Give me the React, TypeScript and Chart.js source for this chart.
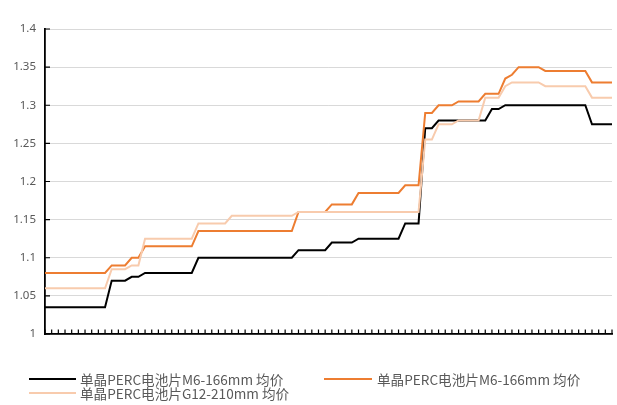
import React, { useEffect, useRef } from "react";
import { Chart, registerables } from "chart.js";

Chart.register(...registerables);

const categories: string[] = Array.from({ length: 86 }, (_, i) => String(i + 1));

const seriesM6Black: number[] = [
  1.035, 1.035, 1.035, 1.035, 1.035, 1.035, 1.035, 1.035, 1.035, 1.035,
  1.07, 1.07, 1.07,
  1.075, 1.075,
  1.08, 1.08, 1.08, 1.08, 1.08, 1.08, 1.08, 1.08,
  1.1, 1.1, 1.1, 1.1, 1.1, 1.1, 1.1, 1.1, 1.1, 1.1, 1.1, 1.1, 1.1, 1.1, 1.1,
  1.11, 1.11, 1.11, 1.11, 1.11,
  1.12, 1.12, 1.12, 1.12,
  1.125, 1.125, 1.125, 1.125, 1.125, 1.125, 1.125,
  1.145, 1.145, 1.145,
  1.27, 1.27,
  1.28, 1.28, 1.28, 1.28, 1.28, 1.28, 1.28, 1.28,
  1.295, 1.295,
  1.3, 1.3, 1.3, 1.3, 1.3, 1.3, 1.3, 1.3, 1.3, 1.3, 1.3, 1.3, 1.3,
  1.275, 1.275, 1.275, 1.275,
];

const seriesM6Orange: number[] = [
  1.08, 1.08, 1.08, 1.08, 1.08, 1.08, 1.08, 1.08, 1.08, 1.08,
  1.09, 1.09, 1.09,
  1.1, 1.1,
  1.115, 1.115, 1.115, 1.115, 1.115, 1.115, 1.115, 1.115,
  1.135, 1.135, 1.135, 1.135, 1.135, 1.135, 1.135, 1.135, 1.135, 1.135, 1.135, 1.135, 1.135, 1.135, 1.135,
  1.16, 1.16, 1.16, 1.16, 1.16,
  1.17, 1.17, 1.17, 1.17,
  1.185, 1.185, 1.185, 1.185, 1.185, 1.185, 1.185,
  1.195, 1.195, 1.195,
  1.29, 1.29,
  1.3, 1.3, 1.3,
  1.305, 1.305, 1.305, 1.305,
  1.315, 1.315, 1.315,
  1.335,
  1.34,
  1.35, 1.35, 1.35, 1.35,
  1.345, 1.345, 1.345, 1.345, 1.345, 1.345, 1.345,
  1.33, 1.33, 1.33, 1.33,
];

const seriesG12: number[] = [
  1.06, 1.06, 1.06, 1.06, 1.06, 1.06, 1.06, 1.06, 1.06, 1.06,
  1.085, 1.085, 1.085,
  1.09, 1.09,
  1.125, 1.125, 1.125, 1.125, 1.125, 1.125, 1.125, 1.125,
  1.145, 1.145, 1.145, 1.145, 1.145,
  1.155, 1.155, 1.155, 1.155, 1.155, 1.155, 1.155, 1.155, 1.155, 1.155,
  1.16, 1.16, 1.16, 1.16, 1.16, 1.16, 1.16, 1.16, 1.16, 1.16, 1.16, 1.16, 1.16, 1.16, 1.16, 1.16, 1.16, 1.16, 1.16,
  1.255, 1.255,
  1.275, 1.275, 1.275,
  1.28, 1.28, 1.28, 1.28,
  1.31, 1.31, 1.31,
  1.325,
  1.33, 1.33, 1.33, 1.33, 1.33,
  1.325, 1.325, 1.325, 1.325, 1.325, 1.325, 1.325,
  1.31, 1.31, 1.31, 1.31,
];

const seriesNames: string[] = [
  "单晶PERC电池片M6-166mm 均价",
  "单晶PERC电池片M6-166mm 均价",
  "单晶PERC电池片G12-210mm 均价",
];
const seriesColors: string[] = ["#000000", "#ED7D31", "#F8CBAD"];

const yMin = 1;
const yMax = 1.4;
const yStep = 0.05;

const innerTicks = {
  id: "innerTicks",
  beforeDatasetsDraw(chart: any) {
    const { ctx, chartArea, scales } = chart;
    const x = scales.x;
    const y = scales.y;
    ctx.save();
    ctx.strokeStyle = "#000000";
    ctx.lineWidth = 1.2;
    ctx.beginPath();
    for (let i = 0; i < categories.length; i++) {
      const px = x.getPixelForValue(i);
      ctx.moveTo(px, chartArea.bottom);
      ctx.lineTo(px, chartArea.bottom - 4.5);
    }
    y.ticks.forEach((_t: any, i: number) => {
      const py = y.getPixelForTick(i);
      ctx.moveTo(chartArea.left, py);
      ctx.lineTo(chartArea.left + 5, py);
    });
    ctx.stroke();
    ctx.restore();
  },
};

export default function App() {
  const canvasRef = useRef<HTMLCanvasElement | null>(null);

  useEffect(() => {
    document.body.style.margin = "0";
    const canvas = canvasRef.current;
    if (!canvas) return;
    const seriesData = [seriesM6Black, seriesM6Orange, seriesG12];
    const chart = new Chart(canvas, {
      type: "line",
      data: {
        labels: categories,
        datasets: seriesData.map((d, i) => ({
          label: seriesNames[i],
          data: d,
          borderColor: seriesColors[i],
          backgroundColor: seriesColors[i],
          borderWidth: 2,
          pointRadius: 0,
          tension: 0,
          fill: false,
          order: 3 - i,
        })),
      },
      options: {
        animation: false,
        responsive: true,
        maintainAspectRatio: false,
        layout: { padding: { top: 29, right: 5, bottom: 71, left: 0 } },
        plugins: {
          legend: { display: false },
          tooltip: { enabled: false },
        },
        scales: {
          x: {
            type: "category",
            offset: false,
            grid: { display: false, drawTicks: false },
            border: { display: true, color: "#000000", width: 1.8 },
            ticks: { display: false },
            afterFit: (scale: any) => {
              scale.height = 0;
            },
          },
          y: {
            min: yMin,
            max: yMax,
            grid: { color: "#D9D9D9", lineWidth: 1, drawTicks: false },
            border: { display: true, color: "#000000", width: 1.8 },
            ticks: {
              stepSize: yStep,
              padding: 9,
              color: "#595959",
              font: { family: "Noto Sans", size: 11.5 },
              callback: (v: any) => String(Number(Number(v).toFixed(2))),
            },
            afterFit: (scale: any) => {
              scale.width = 45;
            },
          },
        },
      },
      plugins: [innerTicks],
    });
    return () => chart.destroy();
  }, []);

  const textStyle: React.CSSProperties = {
    position: "absolute",
    height: 16,
    lineHeight: "16px",
    fontSize: 13.6,
    fontFamily: '"Noto Sans CJK SC", "Noto Sans", sans-serif',
    color: "#595959",
    whiteSpace: "nowrap",
  };
  const lineStyle = (left: number, top: number, width: number, color: string): React.CSSProperties => ({
    position: "absolute",
    left,
    top,
    width,
    height: 2,
    background: color,
  });

  return (
    <div style={{ position: "relative", width: 617, height: 405, background: "#ffffff" }}>
      <canvas ref={canvasRef} />
      <div style={lineStyle(29, 377.5, 47, seriesColors[0])} />
      <div style={{ ...textStyle, left: 80, top: 370.5 }}>{seriesNames[0]}</div>
      <div style={lineStyle(324, 377.5, 48, seriesColors[1])} />
      <div style={{ ...textStyle, left: 377, top: 370.5 }}>{seriesNames[1]}</div>
      <div style={lineStyle(29, 391.5, 47, seriesColors[2])} />
      <div style={{ ...textStyle, left: 80, top: 385 }}>{seriesNames[2]}</div>
    </div>
  );
}
